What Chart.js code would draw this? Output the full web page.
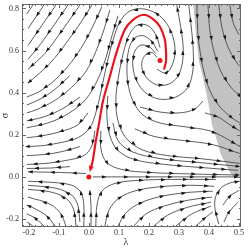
<!DOCTYPE html>
<html>
<head>
<meta charset="utf-8">
<script src="https://cdn.jsdelivr.net/npm/chart.js@4.4.1/dist/chart.umd.min.js"></script>
<style>
  html, body { margin: 0; padding: 0; background: #fff; }
  #wrap { width: 249px; height: 248px; }
</style>
</head>
<body>
<div id="wrap"><canvas id="phase"></canvas></div>
<script>
// axis ranges and tick labels
const xRange = [-0.223, 0.507];
const yRange = [-0.238, 0.821];
const xTicks = [-0.2, -0.1, 0.0, 0.1, 0.2, 0.3, 0.4, 0.5];
const yTicks = [-0.2, 0.0, 0.2, 0.4, 0.6, 0.8];

// streamlines, as [lambda, sigma] in flow order
const leftLines = [
  [[-0.187,0.816],[-0.207,0.774]],
  [[-0.15,0.816],[-0.203,0.704]],
  [[-0.11,0.816],[-0.203,0.624]],
  [[-0.07,0.816],[-0.16,0.633],[-0.203,0.558]],
  [[-0.03,0.816],[-0.097,0.68],[-0.147,0.586],[-0.203,0.511]],
  [[0.01,0.816],[-0.03,0.727],[-0.077,0.633],[-0.13,0.539],[-0.203,0.445]],
  [[0.043,0.807],[0.017,0.727],[-0.017,0.633],[-0.057,0.548],[-0.11,0.464],[-0.163,0.407],[-0.207,0.379]],
  [[0.07,0.793],[0.05,0.699],[0.023,0.595],[-0.01,0.501],[-0.057,0.426],[-0.117,0.36],[-0.177,0.318],[-0.207,0.304]],
  [[0.097,0.765],[0.077,0.671],[0.057,0.567],[0.03,0.464],[-0.01,0.369],[-0.07,0.299],[-0.137,0.256],[-0.207,0.233]],
  [[0.227,0.511],[0.257,0.492],[0.277,0.529],[0.287,0.595],[0.28,0.666],[0.26,0.727],[0.227,0.774],[0.18,0.798],[0.137,0.788],[0.107,0.746],[0.087,0.68],[0.07,0.595],[0.053,0.492],[0.037,0.384],[0.023,0.304],[0.003,0.233],[-0.037,0.186],[-0.097,0.162],[-0.157,0.148],[-0.207,0.144]],
  [[0.02,0.219],[0.01,0.148],[-0.017,0.101],[-0.077,0.078],[-0.143,0.064],[-0.207,0.059]],
  [[-0.01,0.016],[-0.097,0.021],[-0.203,0.024]],
  [[-0.063,0.482],[-0.113,0.416],[-0.163,0.369],[-0.207,0.341]],
  [[-0.03,0.379],[-0.09,0.322],[-0.15,0.285],[-0.207,0.266]],
  [[-0.003,0.304],[-0.037,0.247],[-0.097,0.214],[-0.157,0.195],[-0.207,0.186]],
  [[-0.03,0.144],[-0.09,0.12],[-0.15,0.106],[-0.207,0.101]],
  [[-0.063,0.049],[-0.13,0.042],[-0.207,0.04]]
];

const bottomLines = [
  [[0.007,-0.233],[0.007,-0.134],[0.003,-0.064]],
  [[-0.017,-0.233],[-0.017,-0.134],[-0.027,-0.073],[-0.057,-0.04],[-0.123,-0.026],[-0.203,-0.021]],
  [[-0.03,-0.214],[-0.037,-0.134],[-0.057,-0.087],[-0.11,-0.054],[-0.203,-0.04]],
  [[-0.043,-0.233],[-0.05,-0.158],[-0.073,-0.106],[-0.123,-0.073],[-0.203,-0.059]],
  [[-0.077,-0.233],[-0.093,-0.176],[-0.13,-0.129],[-0.203,-0.096]],
  [[-0.113,-0.233],[-0.14,-0.186],[-0.177,-0.153],[-0.207,-0.134]],
  [[-0.15,-0.233],[-0.18,-0.195],[-0.207,-0.176]],
  [[-0.187,-0.233],[-0.207,-0.214]],
  [[0.023,-0.233],[0.027,-0.134],[0.043,-0.068],[0.087,-0.031],[0.17,-0.016],[0.287,-0.012],[0.423,-0.012]],
  [[0.053,-0.233],[0.067,-0.158],[0.1,-0.101],[0.16,-0.064],[0.253,-0.045],[0.353,-0.04],[0.417,-0.045]],
  [[0.097,-0.233],[0.123,-0.172],[0.17,-0.125],[0.243,-0.092],[0.337,-0.073],[0.413,-0.068]],
  [[0.15,-0.233],[0.19,-0.176],[0.25,-0.139],[0.33,-0.111],[0.41,-0.096]],
  [[0.217,-0.233],[0.263,-0.181],[0.33,-0.144],[0.407,-0.12]],
  [[0.29,-0.233],[0.343,-0.176],[0.407,-0.139]],
  [[0.357,-0.233],[0.39,-0.191],[0.413,-0.167]],
  [[0.433,-0.224],[0.42,-0.148],[0.423,-0.092],[0.443,-0.049],[0.477,-0.026],[0.503,-0.021]],
  [[0.45,-0.214],[0.467,-0.167],[0.497,-0.12]],
  [[0.447,-0.134],[0.47,-0.092],[0.5,-0.064]]
];

const rightLines = [
  [[0.013,0],[0.137,0],[0.303,0],[0.497,0]],
  [[0.04,0.219],[0.04,0.134],[0.06,0.068],[0.11,0.035],[0.203,0.021],[0.337,0.014],[0.497,0.009]],
  [[0.063,0.384],[0.06,0.289],[0.07,0.195],[0.097,0.125],[0.153,0.082],[0.253,0.059],[0.37,0.045],[0.497,0.031]],
  [[0.08,0.256],[0.097,0.172],[0.143,0.12],[0.237,0.087],[0.37,0.068],[0.503,0.049]],
  [[0.153,0.228],[0.22,0.191],[0.32,0.172],[0.413,0.153],[0.503,0.111]],
  [[0.17,0.332],[0.237,0.308],[0.303,0.304],[0.353,0.322],[0.38,0.36]]
];

const spiralArms = [
  [[0.237,0.614],[0.223,0.675],[0.197,0.718],[0.163,0.722],[0.14,0.689],[0.123,0.633],[0.11,0.558],[0.097,0.464],[0.09,0.36],[0.097,0.266],[0.123,0.186],[0.177,0.129],[0.263,0.101],[0.37,0.087],[0.503,0.064]],
  [[0.23,0.595],[0.21,0.642],[0.18,0.671],[0.15,0.656],[0.133,0.605],[0.127,0.529],[0.13,0.445],[0.147,0.36],[0.18,0.294],[0.237,0.256],[0.32,0.238],[0.403,0.219],[0.453,0.186],[0.503,0.144]],
  [[0.223,0.586],[0.2,0.619],[0.17,0.624],[0.15,0.586],[0.147,0.52],[0.16,0.454],[0.19,0.398],[0.237,0.369],[0.29,0.379],[0.33,0.426],[0.347,0.511],[0.347,0.619],[0.34,0.727],[0.333,0.816]],
  [[0.227,0.567],[0.21,0.591],[0.19,0.581],[0.177,0.548],[0.18,0.501],[0.2,0.459],[0.233,0.435],[0.273,0.445],[0.3,0.487],[0.313,0.558],[0.313,0.642],[0.303,0.736],[0.293,0.816]]
];

const grayLines = [
  [[0.36,0.816],[0.363,0.689],[0.373,0.572],[0.387,0.478],[0.407,0.398],[0.437,0.332],[0.477,0.28],[0.503,0.256]],
  [[0.397,0.816],[0.403,0.699],[0.417,0.595],[0.44,0.501],[0.473,0.426],[0.503,0.384]],
  [[0.433,0.816],[0.443,0.713],[0.463,0.619],[0.49,0.548],[0.503,0.525]],
  [[0.47,0.816],[0.48,0.736],[0.5,0.675]],
  [[0.387,0.304],[0.43,0.285],[0.47,0.247],[0.503,0.219]]
];

// red separatrix from the focus down to the saddle, and the two fixed points
const redPath = [[0.25,0.51],[0.257,0.548],[0.257,0.595],[0.253,0.652],[0.237,0.713],[0.213,0.75],[0.183,0.77],[0.147,0.746],[0.12,0.70],[0.093,0.595],[0.07,0.478],[0.047,0.36],[0.033,0.247],[0.023,0.17],[0.013,0.078],[0.006,0.04]];
const fixedPoints = [[0, 0], [0.237, 0.553]];

// left edge of the shaded region, then closed along sigma = 0 and the right frame
const grayBoundary = [[0.347,0.83],[0.357,0.675],[0.367,0.548],[0.38,0.473],[0.39,0.407],[0.403,0.313],[0.41,0.247],[0.42,0.205],[0.44,0.106],[0.47,0.021],[0.483,0],[0.51,0],[0.51,0.83]];

const toXY = line => line.map(([x, y]) => ({ x, y }));

const datasets = [
  {
    data: toXY(fixedPoints), showLine: false, pointRadius: 2.5,
    backgroundColor: "#e8161b", borderWidth: 0, order: 0
  },
  {
    data: toXY(redPath), showLine: true, borderColor: "#e8161b", borderWidth: 2.2,
    pointRadius: 0, tension: 0.3, order: 1, endArrow: true
  }
];
[].concat(leftLines, bottomLines, rightLines, spiralArms, grayLines).forEach(line => {
  datasets.push({
    data: toXY(line), showLine: true, borderColor: "#404040", borderWidth: 0.85,
    pointRadius: 0, tension: 0.35, order: 2, arrows: true
  });
});

function arrowHead(ctx, x, y, dx, dy, len, half, color) {
  ctx.fillStyle = color;
  ctx.beginPath();
  ctx.moveTo(x + dx * len * 0.6, y + dy * len * 0.6);
  ctx.lineTo(x - dx * len * 0.4 - dy * half, y - dy * len * 0.4 + dx * half);
  ctx.lineTo(x - dx * len * 0.4 + dy * half, y - dy * len * 0.4 - dx * half);
  ctx.closePath();
  ctx.fill();
}

const shadePlugin = {
  id: "shade",
  beforeDatasetsDraw(chart) {
    const { ctx, chartArea: a, scales: { x, y } } = chart;
    ctx.save();
    ctx.beginPath();
    ctx.rect(a.left, a.top, a.right - a.left, a.bottom - a.top);
    ctx.clip();
    ctx.beginPath();
    grayBoundary.forEach(([gx, gy], i) => {
      const px = x.getPixelForValue(gx), py = y.getPixelForValue(gy);
      if (i === 0) ctx.moveTo(px, py); else ctx.lineTo(px, py);
    });
    ctx.closePath();
    ctx.fillStyle = "#c2c2c2";
    ctx.fill();
    ctx.restore();
  }
};

const arrowPlugin = {
  id: "arrows",
  afterDatasetDraw(chart, args) {
    const ds = chart.data.datasets[args.index];
    if (!ds.arrows && !ds.endArrow) return;
    const pts = args.meta.data.map(p => [p.x, p.y]);
    const ctx = chart.ctx;
    const a = chart.chartArea;
    ctx.save();
    ctx.beginPath();
    ctx.rect(a.left, a.top, a.right - a.left, a.bottom - a.top);
    ctx.clip();
    if (ds.arrows) {
      let next = 11, walked = 0;
      for (let i = 1; i < pts.length; i++) {
        const [x0, y0] = pts[i - 1], [x1, y1] = pts[i];
        const seg = Math.hypot(x1 - x0, y1 - y0);
        if (!seg) continue;
        const dx = (x1 - x0) / seg, dy = (y1 - y0) / seg;
        while (next <= walked + seg) {
          const t = next - walked;
          arrowHead(ctx, x0 + dx * t, y0 + dy * t, dx, dy, 4.6, 1.7, "#181818");
          next += 22;
        }
        walked += seg;
      }
    }
    if (ds.endArrow) {
      const [x0, y0] = pts[pts.length - 2], [x1, y1] = pts[pts.length - 1];
      const seg = Math.hypot(x1 - x0, y1 - y0);
      arrowHead(ctx, x1, y1, (x1 - x0) / seg, (y1 - y0) / seg, 6, 2.6, "#e8161b");
    }
    ctx.restore();
  }
};

const framePlugin = {
  id: "frame",
  afterDraw(chart) {
    const { ctx, chartArea: a, scales: { x, y } } = chart;
    ctx.save();
    ctx.strokeStyle = "#666";
    ctx.lineWidth = 1;
    ctx.strokeRect(a.left + 0.5, a.top + 0.5, a.right - a.left - 1, a.bottom - a.top - 1);

    ctx.beginPath();
    for (let v = -0.22; v <= 0.5001; v += 0.02) {
      const px = Math.round(x.getPixelForValue(v)) + 0.5;
      const major = Math.abs(v * 10 - Math.round(v * 10)) < 1e-6;
      const len = major ? 4 : 2;
      ctx.moveTo(px, a.bottom); ctx.lineTo(px, a.bottom - len);
      ctx.moveTo(px, a.top); ctx.lineTo(px, a.top + len);
    }
    for (let v = -0.2; v <= 0.8001; v += 0.05) {
      const py = Math.round(y.getPixelForValue(v)) + 0.5;
      const major = Math.abs(v * 5 - Math.round(v * 5)) < 1e-6;
      const len = major ? 4 : 2;
      ctx.moveTo(a.left, py); ctx.lineTo(a.left + len, py);
      ctx.moveTo(a.right, py); ctx.lineTo(a.right - len, py);
    }
    ctx.stroke();

    ctx.fillStyle = "#333";
    ctx.font = '8px "Liberation Serif"';
    ctx.textAlign = "center";
    ctx.textBaseline = "middle";
    xTicks.forEach(v => ctx.fillText(v.toFixed(1), x.getPixelForValue(v), a.bottom + 6));
    ctx.textAlign = "right";
    yTicks.forEach(v => ctx.fillText(v.toFixed(1), a.left - 3, y.getPixelForValue(v)));

    ctx.font = '10px "Liberation Serif"';
    ctx.textAlign = "center";
    ctx.fillText("λ", 126, a.bottom + 15);
    ctx.translate(5, (a.top + a.bottom) / 2);
    ctx.rotate(-Math.PI / 2);
    ctx.fillText("σ", 0, 0);
    ctx.restore();
  }
};

new Chart(document.getElementById("phase"), {
  type: "scatter",
  data: { datasets },
  options: {
    responsive: true,
    maintainAspectRatio: false,
    animation: false,
    layout: { padding: { left: 22, right: 8, top: 2, bottom: 21 } },
    plugins: { legend: { display: false }, tooltip: { enabled: false } },
    scales: {
      x: { type: "linear", min: xRange[0], max: xRange[1], display: false },
      y: { type: "linear", min: yRange[0], max: yRange[1], display: false }
    }
  },
  plugins: [shadePlugin, arrowPlugin, framePlugin]
});
</script>
</body>
</html>
